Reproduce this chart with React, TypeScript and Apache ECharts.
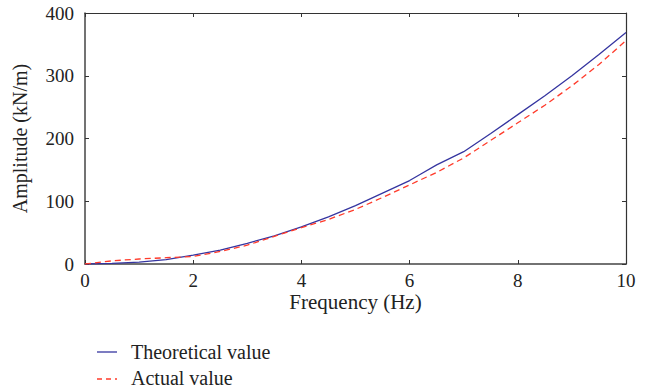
import React, { useEffect, useRef } from "react";
import * as echarts from "echarts";

const frequency = [0, 0.5, 1, 1.5, 2, 2.5, 3, 3.5, 4, 4.5, 5, 5.5, 6, 6.2, 6.5, 7, 7.5, 8, 8.5, 9, 9.5, 10];
const theoretical = [0, 1, 3, 7, 14, 22, 33, 45, 59, 75, 93, 113, 133, 143, 158, 179, 208, 238, 268, 300, 334, 369];
const actual = [0, 5, 8, 10, 12, 20, 30, 44, 58, 71, 87, 106, 126, 134, 146, 169, 197, 225, 253, 284, 318, 356];
const xTicks = [0, 2, 4, 6, 8, 10];
const yTicks = [0, 100, 200, 300, 400];
const seriesNames = ["Theoretical value", "Actual value"];

const FONT = "'Liberation Serif', 'Times New Roman', serif";
const BLUE = "#3535a0";
const RED = "#ff3b2b";

export default function App() {
  const ref = useRef<HTMLDivElement>(null);
  useEffect(() => {
    if (!ref.current) return;
    const chart = echarts.init(ref.current, undefined, { renderer: "svg" });
    const axisLine = { show: true, onZero: false, lineStyle: { color: "#444", width: 1.5 } };
    const thinLine = { show: true, onZero: false, lineStyle: { color: "#333", width: 1.2 } };
    const tick = { show: true, inside: true, length: 4, lineStyle: { color: "#333", width: 1 } };
    chart.setOption({
      animation: false,
      backgroundColor: "#fff",
      textStyle: { fontFamily: FONT },
      grid: { left: 85, right: 27, top: 13, bottom: 126, containLabel: false },
      graphic: [
        { type: "line", shape: { x1: 97, y1: 352, x2: 117, y2: 352 }, style: { stroke: BLUE, lineWidth: 1.3 } },
        {
          type: "text",
          x: 131,
          y: 352,
          style: { text: seriesNames[0], fontFamily: FONT, fontSize: 20, fill: "#222", verticalAlign: "middle" },
        },
        {
          type: "line",
          shape: { x1: 97, y1: 379, x2: 117, y2: 379 },
          style: { stroke: RED, lineWidth: 1.3, lineDash: [5, 4] },
        },
        {
          type: "text",
          x: 131,
          y: 378,
          style: { text: seriesNames[1], fontFamily: FONT, fontSize: 20, fill: "#222", verticalAlign: "middle" },
        },
      ],
      xAxis: [
        {
          type: "value",
          min: 0,
          max: 10,
          interval: 2,
          name: "Frequency (Hz)",
          nameLocation: "middle",
          nameGap: 27,
          nameMoveOverlap: false,
          nameTextStyle: { fontFamily: FONT, fontSize: 21, color: "#222" },
          axisLine,
          axisTick: tick,
          axisLabel: {
            fontFamily: FONT,
            fontSize: 19,
            color: "#222",
            margin: 7,
            formatter: (v: number) => (xTicks.includes(v) ? String(v) : ""),
          },
          splitLine: { show: false },
        },
        {
          type: "value",
          position: "top",
          min: 0,
          max: 10,
          interval: 2,
          axisLine: thinLine,
          axisTick: tick,
          axisLabel: { show: false },
          splitLine: { show: false },
        },
      ],
      yAxis: [
        {
          type: "value",
          min: 0,
          max: 400,
          interval: 100,
          name: "Amplitude (kN/m)",
          nameLocation: "middle",
          nameGap: 55,
          nameMoveOverlap: false,
          nameTextStyle: { fontFamily: FONT, fontSize: 20, color: "#222" },
          axisLine,
          axisTick: tick,
          axisLabel: {
            fontFamily: FONT,
            fontSize: 19,
            color: "#222",
            margin: 11,
            formatter: (v: number) => (yTicks.includes(v) ? String(v) : ""),
          },
          splitLine: { show: false },
        },
        {
          type: "value",
          position: "right",
          min: 0,
          max: 400,
          interval: 100,
          axisLine: thinLine,
          axisTick: tick,
          axisLabel: { show: false },
          splitLine: { show: false },
        },
      ],
      series: [
        {
          name: seriesNames[0],
          type: "line",
          data: frequency.map((f, i) => [f, theoretical[i]]),
          showSymbol: false,
          symbol: "none",
          lineStyle: { color: BLUE, width: 1.3, type: "solid" },
          itemStyle: { color: BLUE },
        },
        {
          name: seriesNames[1],
          type: "line",
          data: frequency.map((f, i) => [f, actual[i]]),
          showSymbol: false,
          symbol: "none",
          lineStyle: { color: RED, width: 1.3, type: [6, 4] },
          itemStyle: { color: RED },
        },
      ],
    });
    return () => chart.dispose();
  }, []);
  return <div ref={ref} style={{ width: 653, height: 390, position: "absolute", left: 0, top: 0 }} />;
}
